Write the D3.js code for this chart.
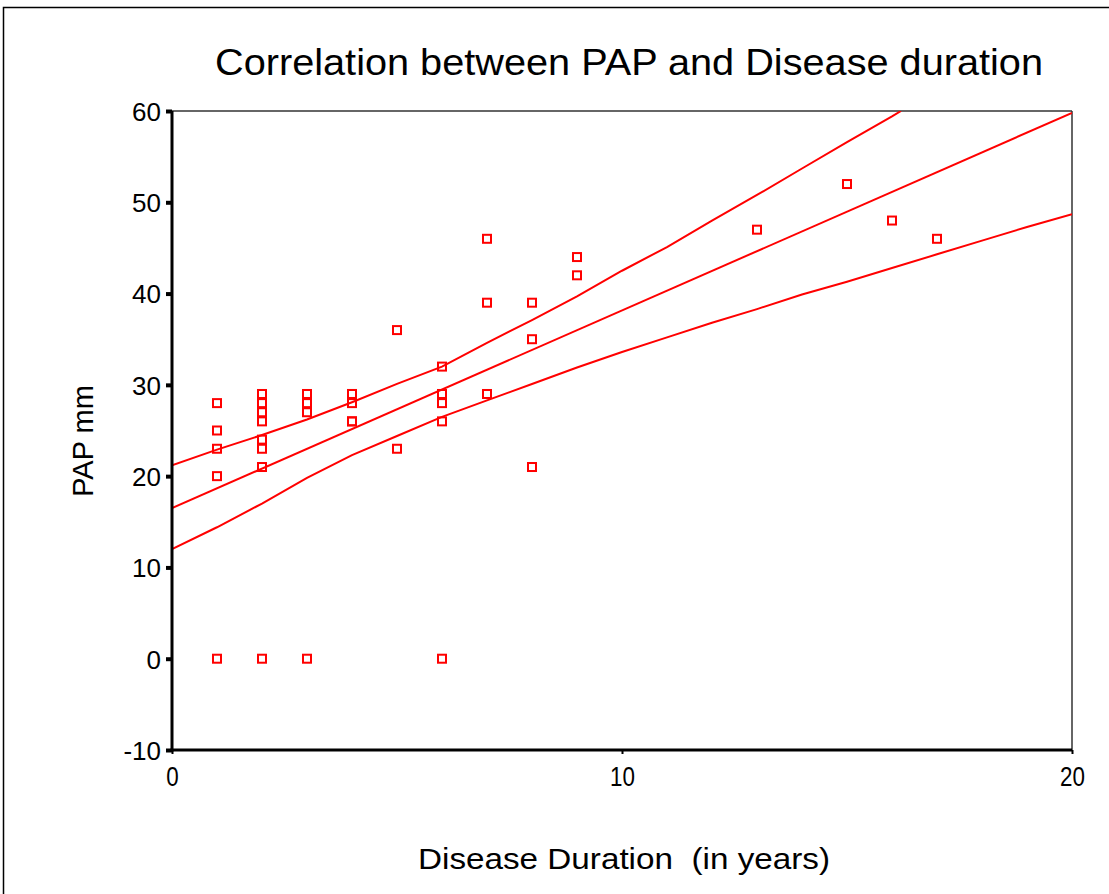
<!DOCTYPE html>
<html>
<head>
<meta charset="utf-8">
<script src="https://cdn.jsdelivr.net/npm/d3@7"></script>
<style>
  body { margin: 0; background: #fff; }
  text { font-family: "Liberation Sans", Arial, sans-serif; fill: #000; }
</style>
</head>
<body>
<svg id="svg" width="1109" height="894"></svg>
<script>
// data
const durationX = [1,1,1,1,1, 2,2,2,2,2,2,2,2, 3,3,3,3, 4,4,4,4,4, 5,5, 6,6,6,6,6, 7,7,7, 8,8,8, 9,9, 13, 15, 16, 17];
const papY      = [28,25,23,20,0, 29,28,27,26,24,23,21,0, 29,28,27,0, 29,29,28,26,26, 36,23, 32,29,28,26,0, 46,39,29, 39,35,21, 44,42, 47, 52, 48, 46];

const fitX = [0, 20];
const fitY = [16.5, 59.8];
const upperX = [0,1,2,3,4,5,6,7,8,9,10,11,12,13,14,15,16,16.2];
const upperY = [21.2,22.9,24.5,26.2,28.1,30.1,32.0,34.6,37.1,39.7,42.5,45.1,48.0,50.8,53.7,56.6,59.4,60];
const lowerX = [0,1,2,3,4,5,6,7,8,9,10,11,12,13,14,15,16,17,18,19,20];
const lowerY = [12.0,14.4,17.0,19.8,22.3,24.4,26.5,28.3,30.1,31.9,33.6,35.2,36.8,38.3,39.9,41.3,42.8,44.3,45.8,47.3,48.7];

const xTicks = [0, 10, 20];
const yTicks = [-10, 0, 10, 20, 30, 40, 50, 60];

const svg = d3.select("#svg");
const plotLeft = 172, plotRight = 1072, plotTop = 111, plotBottom = 750;

// outer frame of the picture
svg.append("rect")
    .attr("x", 3.5).attr("y", 7.5)
    .attr("width", 1200).attr("height", 1000)
    .attr("fill", "none").attr("stroke", "#000").attr("stroke-width", 1.5);

const x = d3.scaleLinear().domain([0, 20]).range([plotLeft, plotRight]);
const y = d3.scaleLinear().domain([-10, 60]).range([plotBottom, plotTop]);

// title
svg.append("text")
    .attr("x", 629).attr("y", 75)
    .attr("text-anchor", "middle")
    .attr("font-size", 37)
    .attr("textLength", 828).attr("lengthAdjust", "spacingAndGlyphs")
    .text("Correlation between PAP and Disease duration");

// plot frame, top and right thin
svg.append("line").attr("x1", plotLeft).attr("x2", plotRight).attr("y1", plotTop).attr("y2", plotTop)
    .attr("stroke", "#333").attr("stroke-width", 1.5);
svg.append("line").attr("x1", plotRight).attr("x2", plotRight).attr("y1", plotTop).attr("y2", plotBottom)
    .attr("stroke", "#333").attr("stroke-width", 1.5);

// clip for the curves
svg.append("clipPath").attr("id", "plotClip")
    .append("rect").attr("x", plotLeft).attr("y", plotTop)
    .attr("width", plotRight - plotLeft).attr("height", plotBottom - plotTop);

const g = svg.append("g").attr("clip-path", "url(#plotClip)");
const line = d3.line().x(d => x(d[0])).y(d => y(d[1]));

g.append("path").datum(d3.zip(upperX, upperY)).attr("d", line)
    .attr("fill", "none").attr("stroke", "#ff0000").attr("stroke-width", 2);
g.append("path").datum(d3.zip(lowerX, lowerY)).attr("d", line)
    .attr("fill", "none").attr("stroke", "#ff0000").attr("stroke-width", 2);
g.append("path").datum(d3.zip(fitX, fitY)).attr("d", line)
    .attr("fill", "none").attr("stroke", "#ff0000").attr("stroke-width", 2);

// points as open squares
svg.append("g").selectAll("rect")
    .data(d3.zip(durationX, papY))
    .enter().append("rect")
    .attr("x", d => x(d[0]) - 4)
    .attr("y", d => y(d[1]) - 4)
    .attr("width", 8).attr("height", 8)
    .attr("fill", "none").attr("stroke", "#ff0000").attr("stroke-width", 2);

// y axis (plain hyphen for -10)
const yAxis = svg.append("g")
    .attr("transform", "translate(" + plotLeft + ",0)")
    .call(d3.axisLeft(y).tickValues(yTicks).tickFormat(d => String(d)).tickSize(6).tickPadding(5));
yAxis.select(".domain").attr("stroke", "#000").attr("stroke-width", 3)
    .attr("d", "M0," + (plotBottom + 1.5) + "V" + plotTop);
yAxis.selectAll(".tick line").attr("stroke", "#000").attr("stroke-width", 4);
yAxis.selectAll(".tick text")
    .style("font-size", "26px").attr("dy", "0.36em")
    .style("font-family", "Liberation Sans, Arial, sans-serif");

// x axis
const xAxis = svg.append("g")
    .attr("transform", "translate(0," + plotBottom + ")")
    .call(d3.axisBottom(x).tickValues(xTicks).tickSize(4).tickPadding(12));
xAxis.select(".domain").attr("stroke", "#000").attr("stroke-width", 3)
    .attr("d", "M" + (plotLeft - 1.5) + ",0H" + plotRight);
xAxis.selectAll(".tick line").attr("stroke", "#000").attr("stroke-width", 2);
xAxis.selectAll(".tick text")
    .style("font-size", "28px").attr("transform", "scale(0.8,1)")
    .style("font-family", "Liberation Sans, Arial, sans-serif");

// axis titles
svg.append("text")
    .attr("transform", "translate(93,441) rotate(-90)")
    .attr("text-anchor", "middle")
    .attr("font-size", 29)
    .text("PAP mm");

svg.append("text")
    .attr("x", 624).attr("y", 869)
    .attr("text-anchor", "middle")
    .attr("font-size", 30)
    .attr("textLength", 412).attr("lengthAdjust", "spacingAndGlyphs")
    .style("white-space", "pre")
    .text("Disease Duration  (in years)");
</script>
</body>
</html>
